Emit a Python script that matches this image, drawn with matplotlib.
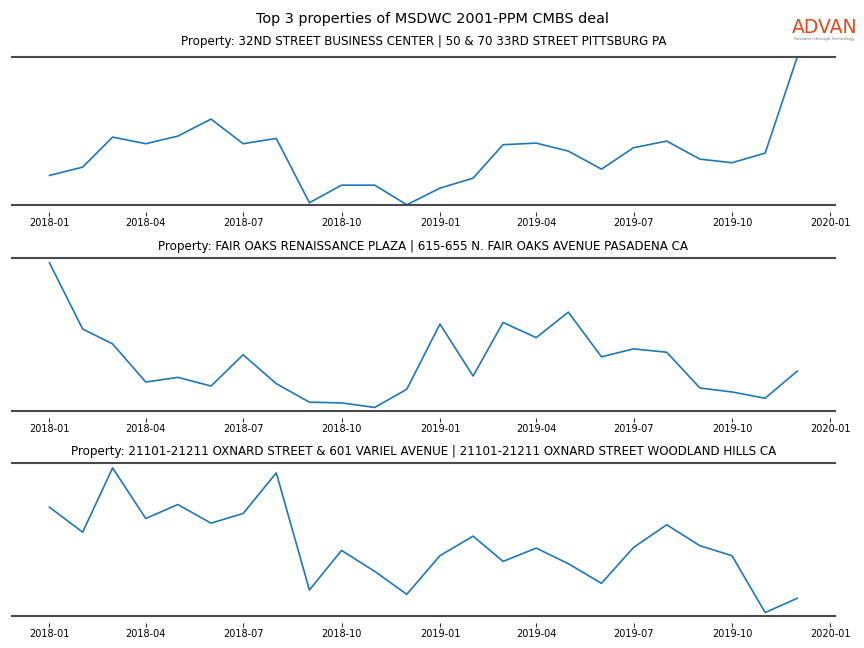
import numpy as np
import pandas as pd
import matplotlib
matplotlib.use('Agg')
import matplotlib.pyplot as plt
import matplotlib.dates as mdates

# monthly series, Jan 2018 - Dec 2019 (relative activity, no y scale shown)
months = pd.date_range('2018-01-01', periods=24, freq='MS')

titles = [
    'Property: 32ND STREET BUSINESS CENTER | 50 & 70 33RD STREET PITTSBURG PA',
    'Property: FAIR OAKS RENAISSANCE PLAZA | 615-655 N. FAIR OAKS AVENUE PASADENA CA',
    'Property: 21101-21211 OXNARD STREET & 601 VARIEL AVENUE | 21101-21211 OXNARD STREET WOODLAND HILLS CA',
]

prop1 = [29.3, 37.6, 67.6, 61.0, 68.6, 85.6, 61.0, 66.3, 2.0, 19.6, 19.6, 0.0,
         16.6, 26.6, 60.0, 61.6, 53.6, 35.6, 57.0, 63.6, 45.6, 42.0, 51.6, 147.6]
prop2 = [149.0, 82.4, 67.4, 29.0, 33.7, 25.0, 56.4, 27.4, 8.7, 8.0, 3.4, 21.7,
         87.4, 35.0, 89.0, 73.7, 99.4, 54.4, 62.4, 59.0, 23.0, 19.0, 12.7, 40.0]
prop3 = [109.3, 84.3, 148.7, 98.0, 112.0, 93.3, 103.0, 143.7, 26.3, 66.0, 45.0, 22.0,
         60.7, 80.3, 55.0, 68.3, 52.7, 33.0, 69.0, 91.7, 70.7, 60.7, 3.7, 18.0]

series = [prop1, prop2, prop3]
ytops = [147.6, 154.0, 153.3]
title_pads = [8.5, 6, 6]

spine_col = '#4a4a4a'

fig = plt.figure(figsize=(8.64, 6.48), dpi=100)
fig.suptitle('Top 3 properties of MSDWC 2001-PPM CMBS deal', fontsize=10.4, y=0.981)

# axes boxes (left, bottom, width, height) in figure fractions
boxes = [(0.014, 0.684, 0.952, 0.228),
         (0.014, 0.366, 0.952, 0.236),
         (0.014, 0.049, 0.952, 0.236)]

for box, vals, ttl, top, tp in zip(boxes, series, titles, ytops, title_pads):
    ax = fig.add_axes(box)
    ax.plot(months, vals, color='#1f77b4', lw=1.2)
    ax.set_ylim(0, top)
    ax.set_title(ttl, fontsize=8.6, pad=tp)

    ax.spines['left'].set_visible(False)
    ax.spines['right'].set_visible(False)
    ax.spines['top'].set_color(spine_col)
    ax.spines['top'].set_linewidth(1.5)
    # ticks sit a little below the bottom rule
    ax.spines['bottom'].set_position(('outward', 5))
    ax.spines['bottom'].set_visible(False)
    ax.plot([0, 1], [0, 0], transform=ax.transAxes, color=spine_col, lw=1.5,
            clip_on=False)

    ax.set_yticks([])
    ax.xaxis.set_major_locator(mdates.MonthLocator(bymonth=[1, 4, 7, 10]))
    ax.xaxis.set_major_formatter(mdates.DateFormatter('%Y-%m'))
    ax.tick_params(axis='x', labelsize=7, length=3.2, width=0.8, pad=1.2,
                   color='#333333')

# logo
fig.text(0.954, 0.958, 'ADVAN', color='#e0481c', fontsize=13.5,
         ha='center', va='center')
fig.text(0.954, 0.940, 'Research through Technology', color='#777777',
         fontsize=3, ha='center', va='center')

fig.savefig('out.png', dpi=100)
